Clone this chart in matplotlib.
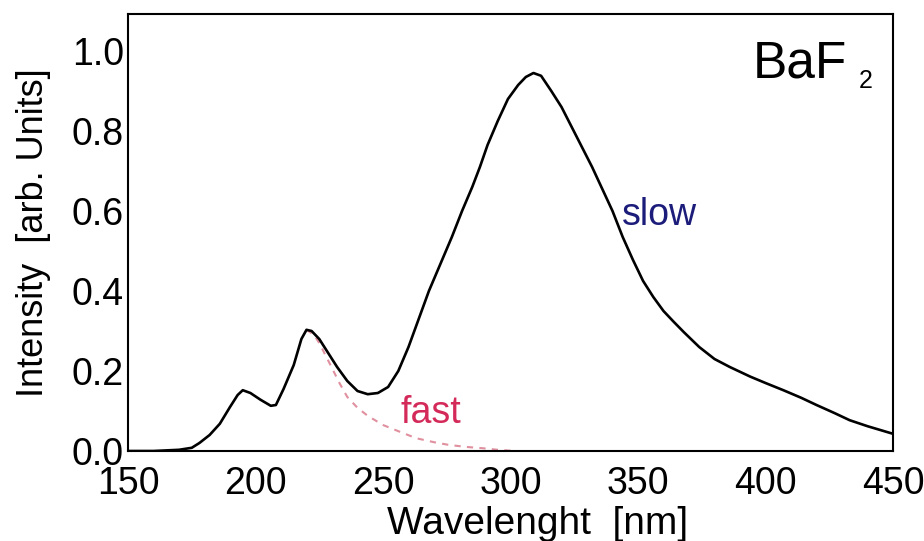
import matplotlib
matplotlib.use("Agg")
import matplotlib.pyplot as plt

# BaF2 emission spectrum
wavelength = [150, 160, 170, 175, 178, 182, 186, 190, 193, 195, 198, 202, 206,
              208, 211, 215, 218, 220, 222, 225, 228, 232, 236, 240, 244, 248,
              252, 256, 260, 264, 268, 272, 277, 281, 285, 288, 291, 295, 299,
              303, 306, 309, 312, 316, 320, 324, 328, 332, 336, 340, 344, 348,
              352, 356, 360, 364, 368, 374, 380, 386, 394, 400, 407, 414, 420,
              427, 433, 440, 450]
intensity = [0.0, 0.0, 0.003, 0.008, 0.02, 0.04, 0.068, 0.11, 0.14, 0.152,
             0.145, 0.128, 0.113, 0.115, 0.155, 0.215, 0.28, 0.303, 0.3, 0.28,
             0.25, 0.21, 0.175, 0.15, 0.142, 0.145, 0.16, 0.2, 0.26, 0.33, 0.4,
             0.46, 0.535, 0.6, 0.66, 0.71, 0.765, 0.825, 0.88, 0.915, 0.935,
             0.945, 0.938, 0.9, 0.86, 0.81, 0.76, 0.71, 0.655, 0.6, 0.535,
             0.478, 0.425, 0.385, 0.35, 0.323, 0.297, 0.26, 0.23, 0.21, 0.186,
             0.17, 0.152, 0.133, 0.115, 0.095, 0.077, 0.062, 0.043]

# fast component (dashed), tail after the 220 nm peak
fast_wavelength = [220, 223, 225, 229, 233, 236, 240, 244, 250, 257, 263, 270,
                   276, 283, 289, 295, 302]
fast_intensity = [0.303, 0.29, 0.27, 0.22, 0.169, 0.135, 0.108, 0.088, 0.065,
                  0.047, 0.032, 0.022, 0.015, 0.01, 0.007, 0.003, 0.0]

xticks = [150, 200, 250, 300, 350, 400, 450]
yticks = [0.0, 0.2, 0.4, 0.6, 0.8, 1.0]

plt.rcParams['font.family'] = ['Liberation Sans', 'DejaVu Sans']

fig = plt.figure(figsize=(9.24, 5.41), dpi=100)
ax = fig.add_axes([128 / 924, 1 - 451 / 541, 765 / 924, 437 / 541])

ax.plot(fast_wavelength, fast_intensity, '--', color='#e0909e', linewidth=1.5,
        dashes=(3, 3))
ax.plot(wavelength, intensity, color='black', linewidth=1.9)

ax.set_xlim(150, 450)
ax.set_ylim(0, 1.0925)
ax.set_xticks(xticks)
ax.set_yticks(yticks)
ax.set_yticklabels(['{:.1f}'.format(v) for v in yticks])
ax.tick_params(length=0, labelsize=27)
ax.tick_params(axis='x', pad=11)
ax.tick_params(axis='y', pad=3)
for spine in ax.spines.values():
    spine.set_linewidth(1.5)

ax.set_xlabel('Wavelenght  [nm]', fontsize=28)
ax.xaxis.set_label_coords(0.535, -0.125)
ax.set_ylabel('Intensity  [arb. Units]', fontsize=26)
ax.yaxis.set_label_coords(-0.1, 0.5)

ax.text(343.7, 0.565, 'slow', color='#1c1c7a', fontsize=27, ha='left',
        va='baseline')
ax.text(256.7, 0.07, 'fast', color='#d42a5a', fontsize=27, ha='left',
        va='baseline')
ax.text(432, 0.9325, 'BaF', fontsize=37, ha='right', va='baseline')
ax.text(436.5, 0.9075, '2', fontsize=18, ha='left', va='baseline')

fig.savefig('out.png', dpi=100)
